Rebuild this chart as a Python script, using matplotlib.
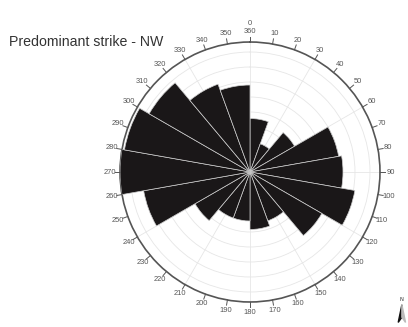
import numpy as np
import matplotlib.pyplot as plt
from matplotlib.patches import Polygon

# strike counts per 20 degree sector, clockwise from north
sector_start = [0, 20, 40, 60, 80, 100, 120, 140, 160,
                180, 200, 220, 240, 260, 280, 300, 320, 340]
counts = [10.7, 6.0, 10.3, 18.0, 18.6, 21.3, 16.6, 10.4, 11.5,
          9.8, 9.8, 12.7, 21.6, 26.0, 25.5, 23.3, 18.7, 17.4]
tick_angles = list(range(0, 360, 10))
tick_labels = ['360'] + [str(a) for a in range(10, 360, 10)]
rmax = 26
rings = [3, 6, 9, 12, 15, 18, 21, 24]

fig = plt.figure(figsize=(4.08, 3.27), dpi=100)
ax = fig.add_axes([0.2941, 0.0765, 0.6373, 0.795], projection='polar')
ax.set_theta_zero_location('N')
ax.set_theta_direction(-1)
ax.set_ylim(0, rmax)

# light grid under the bars
ax.set_rgrids(rings, labels=[''] * len(rings))
ax.set_thetagrids(range(0, 360, 30), labels=[''] * 12)
ax.grid(True, color='#e6e6e6', linewidth=0.6)
ax.set_axisbelow(True)
ax.tick_params(axis='both', length=0)

theta = np.deg2rad(np.array(sector_start) + 10)
ax.bar(theta, counts, width=np.deg2rad(20), bottom=0,
       color='#1a1718', edgecolor='#cfcfcf', linewidth=0.5, zorder=3)

ax.spines['polar'].set_color('#555555')
ax.spines['polar'].set_linewidth(1.2)

# degree ticks and labels round the rim
for a, lab in zip(tick_angles, tick_labels):
    t = np.deg2rad(a)
    ax.plot([t, t], [rmax, rmax * 1.04], color='#555555', lw=0.7,
            clip_on=False, zorder=4)
    ax.text(t, rmax * 1.08, lab, ha='center', va='center', fontsize=5.4,
            color='#555555', family='Liberation Sans')
ax.text(0, rmax * 1.145, '0', ha='center', va='center', fontsize=5.4,
        color='#555555', family='Liberation Sans')

fig.text(0.022, 0.872, 'Predominant strike - NW', fontsize=10.2,
         color='#333333', family='Liberation Sans', va='center')

# small north arrow
fig.text(0.985, 0.085, 'N', fontsize=3.8, ha='center', va='center',
         color='#333333')
left = Polygon([[0.985, 0.068], [0.976, 0.014], [0.985, 0.03]],
               closed=True, transform=fig.transFigure, color='#111111')
right = Polygon([[0.985, 0.068], [0.994, 0.014], [0.985, 0.03]],
                closed=True, transform=fig.transFigure, color='#bbbbbb')
fig.patches.extend([left, right])

fig.savefig('out.png', dpi=100)
